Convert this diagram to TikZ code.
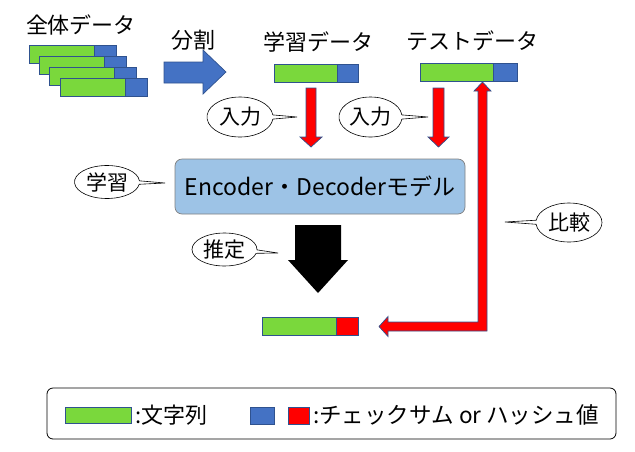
\documentclass[tikz,border=0pt]{standalone}
\usepackage{fontspec}
\setmainfont{Noto Sans CJK JP}
\usetikzlibrary{shapes.callouts,positioning}

\definecolor{strgreen}{RGB}{122,216,60}
\definecolor{sumblue}{RGB}{68,114,196}
\definecolor{bordblue}{RGB}{47,82,143}
\definecolor{mdlblue}{RGB}{157,195,230}

\tikzset{
  lbl/.style={font=\fontsize{22}{26}\selectfont, inner sep=0pt},
  strbox/.style={draw=bordblue, fill=strgreen, line width=0.8pt, minimum height=18pt, inner sep=0pt, outer sep=0pt},
  sumbox/.style={strbox, fill=sumblue},
  hashbox/.style={strbox, fill=red},
  redblk/.style={fill=red, draw=bordblue, line width=0.7pt},
  callout/.style={ellipse callout, draw, fill=white, line width=0.6pt, inner sep=0pt, callout pointer arc=12, font=\fontsize{21}{24}\selectfont},
}

\begin{document}
\begin{tikzpicture}[x=1pt,y=-1pt]
\useasboundingbox (0,0) rectangle (635,451);

% all data, four stacked bars
\node[lbl] (alltxt) at (81,25) {全体データ};
\foreach \i in {0,...,3} {
  \node[strbox, minimum width=65pt, anchor=north west] (all\i) at ({29+10.3*\i},{45+11*\i}) {};
  \node[sumbox, minimum width=22pt, anchor=west] (allh\i) at (all\i.east) {};
}

% split
\node[lbl] (splittxt) at (193,40) {分割};
\draw[fill=sumblue, draw=bordblue, line width=0.7pt] (164,62) -- (203,62) -- (203,50) -- (226,72) -- (203,94) -- (203,83) -- (164,83) -- cycle;

% training / test data
\node[lbl] (trntxt) at (318.5,42) {学習データ};
\node[strbox, minimum width=63pt, anchor=north west] (trn) at (274,64) {};
\node[sumbox, minimum width=21pt, anchor=west] (trnh) at (trn.east) {};

\node[lbl] (tsttxt) at (472.5,41) {テストデータ};
\node[strbox, minimum width=73pt, anchor=north west] (tst) at (420,63) {};
\node[sumbox, minimum width=24pt, anchor=west] (tsth) at (tst.east) {};

% input arrows
\draw[redblk] (306,88) -- (316,88) -- (316,137) -- (322,137) -- (311,147) -- (300,137) -- (306,137) -- cycle;
\draw[redblk] (433,88) -- (444,88) -- (444,137) -- (449,137) -- (438.5,147) -- (428,137) -- (433,137) -- cycle;
\node[callout, minimum width=66pt, minimum height=40pt, callout absolute pointer={(297,117)}] (inp1) at (240,117) {入力};
\node[callout, minimum width=63pt, minimum height=40pt, callout absolute pointer={(428,117)}] (inp2) at (370.5,117) {入力};

% model
\node[lbl, draw=gray, fill=mdlblue, rounded corners=7pt, line width=0.7pt, minimum width=290pt, minimum height=55pt, font=\fontsize{23}{27}\selectfont] (mdl) at (320,186.5) {Encoder・Decoderモデル};
\node[callout, minimum width=65pt, minimum height=33pt, callout absolute pointer={(165,183)}] (learn) at (107,182) {学習};

% estimate
\fill (295,225) -- (341,225) -- (341,260) -- (348,260) -- (318,293) -- (288,260) -- (295,260) -- cycle;
\node[callout, minimum width=65pt, minimum height=33pt, callout absolute pointer={(278,253)}] (est) at (224.5,249.5) {推定};

% output
\node[strbox, minimum width=74pt, anchor=north west] (out) at (262,317) {};
\node[hashbox, minimum width=22pt, anchor=west] (outh) at (out.east) {};

% compare
\draw[redblk] (482.5,82) -- (491,91) -- (487,91) -- (487,331) -- (388,331) -- (388,336.5) -- (379,326.5) -- (388,316.5) -- (388,322) -- (478,322) -- (478,91) -- (474,91) -- cycle;
\node[callout, minimum width=66pt, minimum height=39pt, callout absolute pointer={(505,222)}] (cmp) at (569,222.5) {比較};

% legend
\draw[line width=0.8pt, rounded corners=6pt] (47,388) rectangle (616,439);
\node[strbox, minimum width=66pt, minimum height=16pt, anchor=north west] (lgstr) at (65,407) {};
\node[lbl, anchor=west] (lgstrtxt) at (135,415) {:文字列};
\node[sumbox, minimum width=24pt, minimum height=17pt, anchor=north west] (lgsum) at (250,407) {};
\node[hashbox, minimum width=21pt, minimum height=17pt, anchor=north west] (lghash) at (288,407) {};
\node[lbl, anchor=west, font=\fontsize{22.5}{26}\selectfont] (lghashtxt) at (313,415) {:チェックサム or ハッシュ値};
\end{tikzpicture}
\end{document}
